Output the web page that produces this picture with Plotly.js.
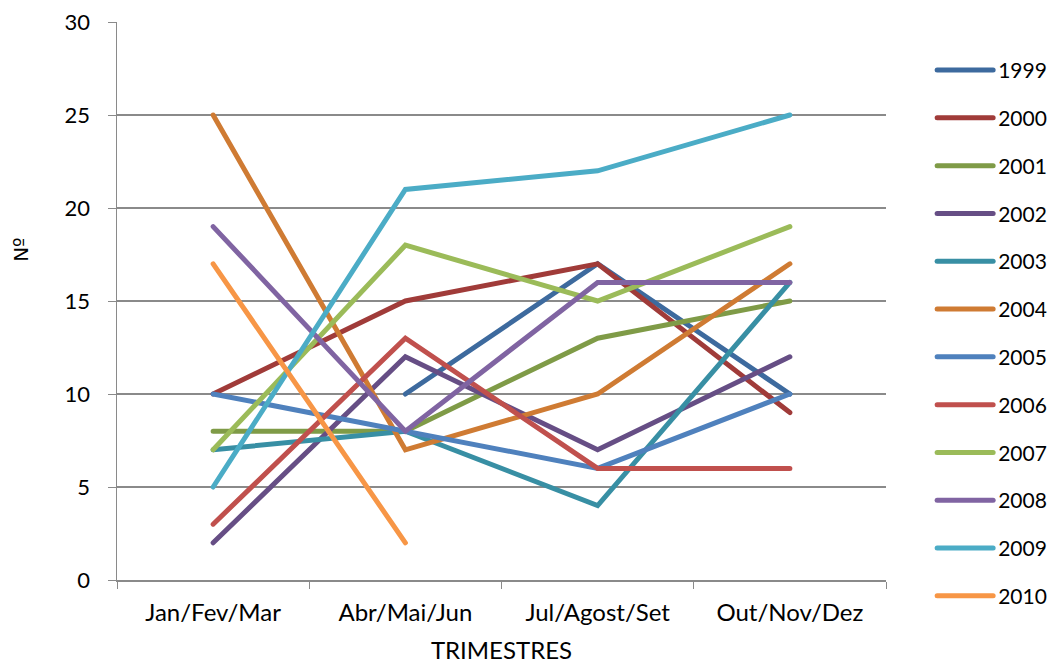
<!DOCTYPE html>
<html>
<head>
<meta charset="utf-8">
<script src="https://cdn.plot.ly/plotly-3.0.1.min.js"></script>
<style>
  html, body { margin: 0; padding: 0; background: #fff; }
  #chart { width: 1056px; height: 664px; }
  /* rounded line ends for series and legend samples */
  #chart .js-line { stroke-linecap: round; }
</style>
</head>
<body>
<div id="chart"></div>
<script>
// Quarterly counts per year
const trimestres = ["Jan/Fev/Mar", "Abr/Mai/Jun", "Jul/Agost/Set", "Out/Nov/Dez"];

const anos = ["1999", "2000", "2001", "2002", "2003", "2004",
              "2005", "2006", "2007", "2008", "2009", "2010"];

const v1999 = [null, 10, 17, 10];
const v2000 = [10, 15, 17, 9];
const v2001 = [8, 8, 13, 15];
const v2002 = [2, 12, 7, 12];
const v2003 = [7, 8, 4, 16];
const v2004 = [25, 7, 10, 17];
const v2005 = [10, 8, 6, 10];
const v2006 = [3, 13, 6, 6];
const v2007 = [7, 18, 15, 19];
const v2008 = [19, 8, 16, 16];
const v2009 = [5, 21, 22, 25];
const v2010 = [17, 2, null, null];

const valores = [v1999, v2000, v2001, v2002, v2003, v2004,
                 v2005, v2006, v2007, v2008, v2009, v2010];

const cores = ["#3D6A9E", "#A03B39", "#7F9B47", "#664E85", "#388FA4", "#CF7B33",
               "#4F81BD", "#C0504D", "#9BBB59", "#8064A2", "#4BACC6", "#F79646"];

const fonte = "Lato, 'Liberation Sans', sans-serif";

const traces = anos.map((ano, i) => ({
  type: "scatter",
  mode: "lines",
  name: ano,
  legendgroup: ano,
  x: trimestres,
  y: valores[i],
  line: { color: cores[i], width: 5 },
  connectgaps: false,
  hoverinfo: "x+y+name"
}));

const layout = {
  width: 1056,
  height: 664,
  paper_bgcolor: "#fff",
  plot_bgcolor: "#fff",
  margin: { l: 117, r: 170, t: 22, b: 84, autoexpand: false },
  font: { family: fonte, size: 21, color: "#000" },
  showlegend: true,
  legend: {
    x: 1.06, xanchor: "left",
    y: 0.95, yanchor: "top",
    font: { family: fonte, size: 21, color: "#000" },
    tracegroupgap: 17.5,
    itemwidth: 56,
    maxheight: 640,
    bgcolor: "rgba(0,0,0,0)"
  },
  xaxis: {
    type: "category",
    range: [-0.5, 3.5],
    showgrid: false,
    showline: true,
    linecolor: "#8a8a8a",
    linewidth: 1.5,
    ticks: "outside",
    tickson: "boundaries",
    ticklen: 7,
    tickcolor: "#8a8a8a",
    ticklabelstandoff: 11,
    tickfont: { family: fonte, size: 24 },
    title: { text: "TRIMESTRES", font: { family: fonte, size: 24 }, standoff: 18 },
    zeroline: false,
    fixedrange: true
  },
  yaxis: {
    range: [0, 30],
    dtick: 5,
    showgrid: true,
    gridcolor: "#8a8a8a",
    gridwidth: 1.5,
    showline: true,
    linecolor: "#8a8a8a",
    linewidth: 1.5,
    ticks: "outside",
    ticklen: 8,
    tickcolor: "#8a8a8a",
    ticklabelstandoff: 13,
    tickfont: { family: fonte, size: 22 },
    zeroline: false,
    fixedrange: true
  },
  annotations: [{
    text: "Nº",
    xref: "paper", yref: "paper",
    x: -0.124, y: 0.591,
    xanchor: "center", yanchor: "middle",
    textangle: -90,
    showarrow: false,
    font: { family: "'DejaVu Sans', 'Liberation Sans', sans-serif", size: 20, color: "#000" }
  }]
};

Plotly.newPlot("chart", traces, layout, { displayModeBar: false, staticPlot: true });
</script>
</body>
</html>
